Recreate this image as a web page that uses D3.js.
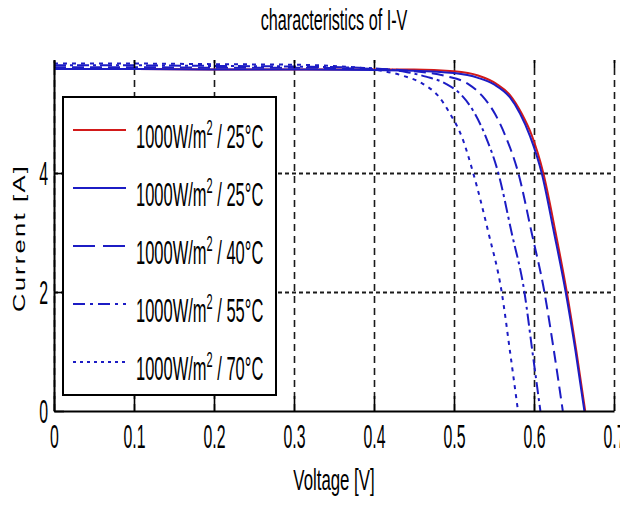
<!DOCTYPE html>
<html>
<head>
<meta charset="utf-8">
<script src="https://cdn.jsdelivr.net/npm/d3@7"></script>
<style>
  body { margin: 0; background: #fff; }
  svg { display: block; font-family: "Liberation Sans", Arial, sans-serif; }
</style>
</head>
<body>
<svg id="chart" width="620" height="506"></svg>
<script>
// Axis ticks
const voltageTicks = [0, 0.1, 0.2, 0.3, 0.4, 0.5, 0.6, 0.7];
const currentTicks = [0, 2, 4];

// Series: irradiance / temperature
const irradiance = [1000, 1000, 1000, 1000, 1000];
const temperatures = [25, 25, 40, 55, 70];

// I-V points (voltage in V, current in A)
const vRef25 = [0, 0.1, 0.2, 0.3, 0.4, 0.45, 0.5, 0.53, 0.553, 0.57, 0.5846, 0.597, 0.6116, 0.627, 0.641, 0.653, 0.664];
const iRef25 = [5.75, 5.75, 5.74, 5.74, 5.74, 5.74, 5.71, 5.64, 5.5, 5.31, 5.0, 4.64, 4.0, 3.0, 2.0, 1.0, 0];

const v25 = [0, 0.1, 0.2, 0.3, 0.4, 0.45, 0.5, 0.53, 0.55, 0.57, 0.5825, 0.595, 0.6096, 0.625, 0.6396, 0.652, 0.663];
const i25 = [5.75, 5.75, 5.74, 5.74, 5.73, 5.72, 5.68, 5.6, 5.49, 5.27, 5.0, 4.62, 4.0, 3.0, 2.0, 1.0, 0];

const v40 = [0, 0.1, 0.2, 0.3, 0.4, 0.45, 0.49, 0.5175, 0.535, 0.551, 0.565, 0.5804, 0.597, 0.613, 0.625, 0.636];
const i40 = [5.78, 5.78, 5.77, 5.77, 5.75, 5.71, 5.63, 5.5, 5.3, 5.0, 4.6, 4.0, 3.0, 2.0, 1.0, 0];

const v55 = [0, 0.1, 0.2, 0.3, 0.4, 0.44, 0.465, 0.49, 0.51, 0.526, 0.54, 0.5554, 0.572, 0.588, 0.598, 0.608];
const i55 = [5.81, 5.81, 5.8, 5.79, 5.76, 5.7, 5.62, 5.5, 5.3, 5.0, 4.6, 4.0, 3.0, 2.0, 1.0, 0];

const v70 = [0, 0.1, 0.2, 0.3, 0.35, 0.4, 0.435, 0.461, 0.48, 0.495, 0.51, 0.524, 0.543, 0.5596, 0.57, 0.58];
const i70 = [5.84, 5.84, 5.83, 5.82, 5.8, 5.74, 5.64, 5.5, 5.3, 5.0, 4.6, 4.0, 3.0, 2.0, 1.0, 0];

const seriesVoltage = [vRef25, v25, v40, v55, v70];
const seriesCurrent = [iRef25, i25, i40, i55, i70];

// Line styles per series
const lineColors = ["#d21a1a", "#1c1cc4", "#1c1cc4", "#1c1cc4", "#1c1cc4"];
const plotDash = [null, null, "12,6", "12,4,3,4", "4,5"];
const legendDash = [null, null, "22,8", "12,5,3,5", "3,4"];

const svg = d3.select("#chart");
const plotLeft = 54, plotRight = 614, plotTop = 60, plotBottom = 411;
const squeeze = 0.48;

const x = d3.scaleLinear().domain([0, 0.7]).range([plotLeft, plotRight]);
const y = d3.scaleLinear().domain([0, 5.9]).range([plotBottom, plotTop]);

// Grid: dashed verticals, dotted horizontals
svg.append("g")
  .attr("transform", `translate(0,${plotBottom})`)
  .call(d3.axisBottom(x).tickValues(voltageTicks).tickSize(-(plotBottom - plotTop)).tickFormat(""))
  .call(g => g.select(".domain").remove())
  .call(g => g.selectAll("line").attr("stroke", "#1a1a1a").attr("stroke-width", 1.6).attr("stroke-dasharray", "7,5"));

svg.append("g")
  .attr("transform", `translate(${plotLeft},0)`)
  .call(d3.axisLeft(y).tickValues(currentTicks.filter(d => d > 0)).tickSize(-(plotRight - plotLeft)).tickFormat(""))
  .call(g => g.select(".domain").remove())
  .call(g => g.selectAll("line").attr("stroke", "#1a1a1a").attr("stroke-width", 2).attr("stroke-dasharray", "4,3"));

// Curves
svg.append("clipPath").attr("id", "plot-clip")
  .append("rect").attr("x", plotLeft).attr("y", plotTop - 4)
  .attr("width", plotRight - plotLeft + 2).attr("height", plotBottom - plotTop + 4);

const line = d3.line()
  .x(d => x(d[0]))
  .y(d => y(d[1]))
  .curve(d3.curveMonotoneX);

const curves = svg.append("g").attr("clip-path", "url(#plot-clip)");
seriesVoltage.forEach((vs, k) => {
  const pts = vs.map((v, j) => [v, seriesCurrent[k][j]]);
  curves.append("path")
    .attr("d", line(pts))
    .attr("fill", "none")
    .attr("stroke", lineColors[k])
    .attr("stroke-width", 2)
    .attr("stroke-dasharray", plotDash[k]);
});

// Axes (inward ticks)
const xAxis = svg.append("g")
  .attr("transform", `translate(0,${plotBottom})`)
  .call(d3.axisBottom(x).tickValues(voltageTicks).tickSizeInner(-15).tickSizeOuter(0)
    .tickFormat(d => d === 0 ? "0" : d3.format(".1f")(d)));
xAxis.select(".domain").attr("stroke", "#000").attr("stroke-width", 2);
xAxis.selectAll("line").attr("stroke", "#000").attr("stroke-width", 1.6);
xAxis.selectAll("text")
  .attr("fill", "#000").attr("font-size", 33)
  .attr("y", 37).attr("dy", null)
  .attr("transform", `scale(${squeeze},1)`);

// Short top ticks
svg.append("g")
  .attr("transform", `translate(0,${plotTop})`)
  .call(d3.axisTop(x).tickValues(voltageTicks).tickSizeInner(-8).tickSizeOuter(0).tickFormat(""))
  .call(g => g.select(".domain").remove())
  .call(g => g.selectAll("line").attr("stroke", "#000").attr("stroke-width", 1.6));

const yAxis = svg.append("g")
  .attr("transform", `translate(${plotLeft},0)`)
  .call(d3.axisLeft(y).tickValues(currentTicks).tickSizeInner(-10).tickSizeOuter(0).tickFormat(d3.format("d")));
yAxis.select(".domain").attr("stroke", "#000").attr("stroke-width", 2);
yAxis.selectAll("line").attr("stroke", "#000").attr("stroke-width", 1.6);
yAxis.selectAll("text")
  .attr("fill", "#000").attr("font-size", 33)
  .attr("x", -6 / squeeze).attr("dy", "0.36em")
  .attr("transform", `scale(${squeeze},1)`);

// Title and axis labels
svg.append("text")
  .attr("transform", `translate(${(plotLeft + plotRight) / 2},30) scale(0.54,1)`)
  .attr("text-anchor", "middle").attr("font-size", 30).attr("fill", "#000")
  .text("characteristics of I-V");

svg.append("text")
  .attr("transform", `translate(${(plotLeft + plotRight) / 2},490) scale(0.58,1)`)
  .attr("text-anchor", "middle").attr("font-size", 29).attr("fill", "#000")
  .text("Voltage [V]");

svg.append("text")
  .attr("transform", `translate(25,238) rotate(-90) scale(1.5,1)`)
  .attr("text-anchor", "middle").attr("font-size", 17).attr("fill", "#000")
  .attr("letter-spacing", 1.5)
  .text("Current  [A]");

// Legend
const legend = svg.append("g");
legend.append("rect")
  .attr("x", 63).attr("y", 97).attr("width", 213).attr("height", 298)
  .attr("fill", "#fff").attr("stroke", "#000").attr("stroke-width", 2);

const entryY = [130, 188, 246, 304, 362];
temperatures.forEach((t, k) => {
  const ly = entryY[k];
  legend.append("line")
    .attr("x1", 73).attr("x2", 126).attr("y1", ly).attr("y2", ly)
    .attr("stroke", lineColors[k]).attr("stroke-width", 2)
    .attr("stroke-dasharray", legendDash[k]);
  const txt = legend.append("text")
    .attr("transform", `translate(136,${ly + 18}) scale(0.5,1)`)
    .attr("font-size", 33).attr("fill", "#000");
  txt.append("tspan").text(`${irradiance[k]}W/m`);
  txt.append("tspan").attr("font-size", 22).attr("dy", -13).text("2");
  txt.append("tspan").attr("dy", 13).text(` / ${t}°C`);
});
</script>
</body>
</html>
